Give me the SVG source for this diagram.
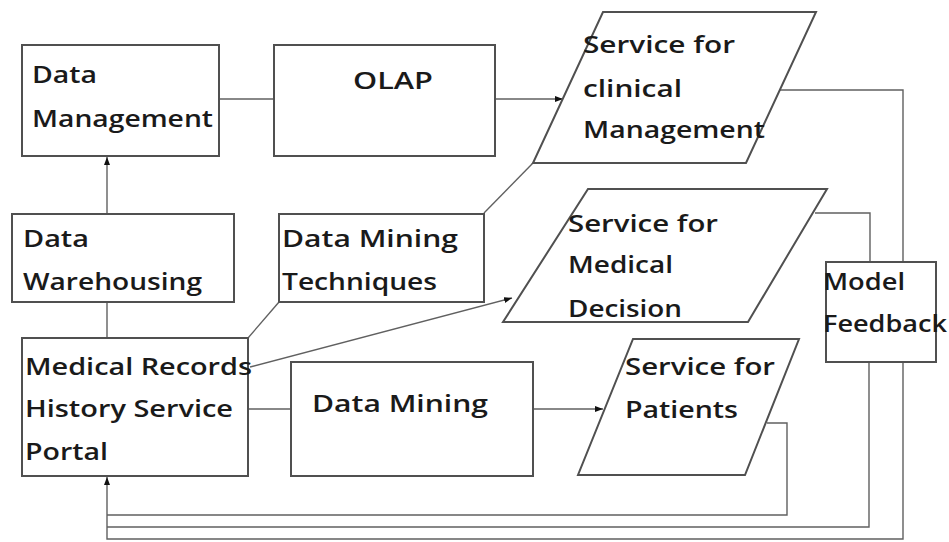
<svg xmlns="http://www.w3.org/2000/svg" width="949" height="542" viewBox="0 0 949 542">
<style>
.box{fill:#fff;stroke:#505050;stroke-width:2}
.con{fill:none;stroke:#606060;stroke-width:1.4}
text{font-family:"Open Sans","Noto Sans",sans-serif;font-size:24px;font-weight:600;fill:#1a1a1a}
</style>
<defs>
<marker id="ah" markerUnits="userSpaceOnUse" markerWidth="9" markerHeight="7" refX="8" refY="3" orient="auto">
<path d="M0,0 L8,3 L0,6 z" fill="#111"/>
</marker>
</defs>
<rect width="949" height="542" fill="#fff"/>
<g id="connectors">
<line class="con" x1="107" y1="214" x2="107" y2="157" marker-end="url(#ah)"/>
<line class="con" x1="219" y1="99" x2="274" y2="99"/>
<line class="con" x1="495" y1="99" x2="563" y2="99" marker-end="url(#ah)"/>
<line class="con" x1="107" y1="302" x2="107" y2="338"/>
<line class="con" x1="484" y1="213" x2="533" y2="163"/>
<line class="con" x1="279" y1="302" x2="248" y2="338"/>
<line class="con" x1="250" y1="367" x2="512" y2="298" marker-end="url(#ah)"/>
<line class="con" x1="248" y1="409" x2="291" y2="409"/>
<line class="con" x1="533" y1="409" x2="603" y2="409" marker-end="url(#ah)"/>
<polyline class="con" points="767,423 787,423 787,515 107,515"/>
<polyline class="con" points="780,90 903,90 903,262"/>
<polyline class="con" points="815,213 870,213 870,262"/>
<polyline class="con" points="869,362 869,527 107,527"/>
<path class="con" d="M903,362 V539 H107 V477" marker-end="url(#ah)"/>
</g>
<g id="data-management">
<rect class="box" x="22" y="45" width="197" height="111"/>
<text x="32" y="83" textLength="65" lengthAdjust="spacingAndGlyphs">Data</text>
<text x="32" y="127" textLength="181" lengthAdjust="spacingAndGlyphs">Management</text>
</g>
<g id="olap">
<rect class="box" x="274" y="45" width="221" height="111"/>
<text x="353" y="89" textLength="80" lengthAdjust="spacingAndGlyphs">OLAP</text>
</g>
<g id="service-clinical">
<polygon class="box" points="603,12 816,12 746,163 533,163"/>
<text x="583" y="53" textLength="152" lengthAdjust="spacingAndGlyphs">Service for</text>
<text x="583" y="97" textLength="99" lengthAdjust="spacingAndGlyphs">clinical</text>
<text x="583" y="138" textLength="182" lengthAdjust="spacingAndGlyphs">Management</text>
</g>
<g id="data-warehousing">
<rect class="box" x="12" y="214" width="222" height="88"/>
<text x="23" y="247" textLength="66" lengthAdjust="spacingAndGlyphs">Data</text>
<text x="23" y="290" textLength="179" lengthAdjust="spacingAndGlyphs">Warehousing</text>
</g>
<g id="data-mining-techniques">
<rect class="box" x="279" y="214" width="205" height="88"/>
<text x="282" y="247" textLength="176" lengthAdjust="spacingAndGlyphs">Data Mining</text>
<text x="282" y="290" textLength="155" lengthAdjust="spacingAndGlyphs">Techniques</text>
</g>
<g id="service-medical-decision">
<polygon class="box" points="588,189 827,189 748,322 503,322"/>
<text x="568" y="232" textLength="150" lengthAdjust="spacingAndGlyphs">Service for</text>
<text x="568" y="273" textLength="105" lengthAdjust="spacingAndGlyphs">Medical</text>
<text x="568" y="317" textLength="114" lengthAdjust="spacingAndGlyphs">Decision</text>
</g>
<g id="model-feedback">
<rect class="box" x="826" y="262" width="110" height="100"/>
<text x="823" y="290" textLength="82" lengthAdjust="spacingAndGlyphs">Model</text>
<text x="823" y="332" textLength="124" lengthAdjust="spacingAndGlyphs">Feedback</text>
</g>
<g id="medical-records-portal">
<rect class="box" x="22" y="338" width="226" height="138"/>
<text x="25" y="375" textLength="227" lengthAdjust="spacingAndGlyphs">Medical Records</text>
<text x="25" y="417" textLength="208" lengthAdjust="spacingAndGlyphs">History Service</text>
<text x="25" y="460" textLength="83" lengthAdjust="spacingAndGlyphs">Portal</text>
</g>
<g id="data-mining">
<rect class="box" x="291" y="362" width="242" height="114"/>
<text x="312" y="412" textLength="176" lengthAdjust="spacingAndGlyphs">Data Mining</text>
</g>
<g id="service-patients">
<polygon class="box" points="633,339 799,339 745,475 578,475"/>
<text x="625" y="375" textLength="150" lengthAdjust="spacingAndGlyphs">Service for</text>
<text x="625" y="418" textLength="113" lengthAdjust="spacingAndGlyphs">Patients</text>
</g>
</svg>
